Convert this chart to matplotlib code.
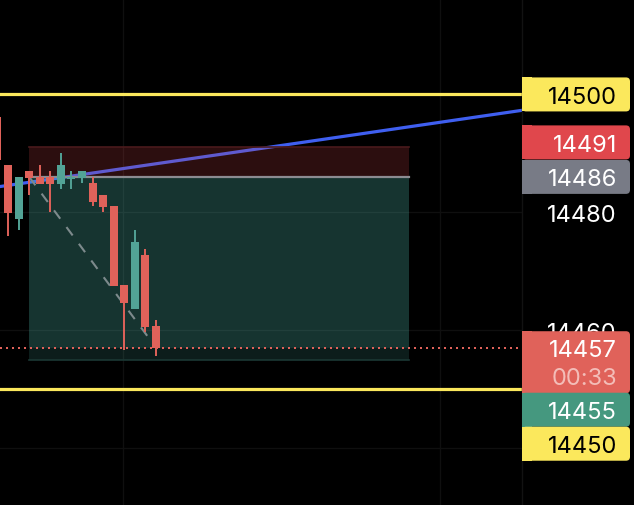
import matplotlib.pyplot as plt
from matplotlib.patches import Rectangle, FancyBboxPatch

# candles (bar index, OHLC)
opens  = [14496.1, 14488.0, 14478.8, 14487.0, 14486.0, 14486.0, 14484.8, 14485.7,
          14485.8, 14485.0, 14482.9, 14481.0, 14467.7, 14463.6, 14472.8, 14460.7]
highs  = [14496.1, 14488.0, 14486.0, 14487.0, 14488.0, 14487.0, 14490.1, 14487.0,
          14487.0, 14486.0, 14482.9, 14481.0, 14467.7, 14476.9, 14473.8, 14461.7]
lows   = [14488.9, 14475.9, 14476.9, 14482.9, 14484.8, 14480.0, 14483.9, 14483.9,
          14485.0, 14481.0, 14480.0, 14467.5, 14456.6, 14463.6, 14459.7, 14455.6]
closes = [14488.9, 14479.8, 14486.0, 14485.8, 14484.8, 14484.8, 14488.0, 14485.9,
          14487.0, 14481.7, 14480.9, 14467.5, 14464.6, 14474.9, 14460.5, 14457.0]

# drawings
levels = [14500, 14450]                   # yellow horizontal lines
trend_x = [0, 50]
trend_y = [14484.3, 14497.4]
box_x = [3, 38.9]                         # short position tool
stop, entry, target = 14491, 14486, 14455
path_x = [3, 15]
path_y = [14486, 14457]
last_price = 14457
countdown = "00:33"
grid_prices = [14440, 14460, 14480, 14500]
grid_bars = [11.87, 41.86]

RED = "#e0625a"
TEAL = "#52a396"
YELLOW = "#fbe85c"

W, H = 634, 506
fig = plt.figure(figsize=(W / 100, H / 100), dpi=100, facecolor="black")
ax = fig.add_axes([0, 0, 522 / W, 1])
ax.set_facecolor("black")
ymin, ymax = 14430.3, 14516.2
ax.set_xlim(0.24, 49.62)
ax.set_ylim(ymin, ymax)
ax.axis("off")

for p in grid_prices:
    ax.axhline(p, color="#0f0f0f", lw=1, zorder=0)
for b in grid_bars:
    ax.axvline(b, color="#0f0f0f", lw=1, zorder=0)

# trend line
ax.plot(trend_x, trend_y, color="#3f5ff0", lw=2.3, zorder=1, solid_capstyle="butt")

# position box
w = box_x[1] - box_x[0]
ax.add_patch(Rectangle((box_x[0], entry), w, stop - entry, facecolor="#e0474c",
                       alpha=0.2, lw=0, zorder=2))
ax.plot(box_x, [stop, stop], color="#4a1a1c", lw=1.2, zorder=2)
ax.add_patch(Rectangle((box_x[0], last_price), w, entry - last_price, facecolor="#58d0c0",
                       alpha=0.25, lw=0, zorder=2))
ax.add_patch(Rectangle((box_x[0], target), w, last_price - target, facecolor="#58d0c0",
                       alpha=0.14, lw=0, zorder=2))
ax.plot(box_x, [target, target], color="#1b3834", lw=1.2, zorder=2)
ax.plot(box_x, [entry, entry], color="#8c8c92", lw=1.6, zorder=3)
ax.plot(path_x, path_y, color="#7d8a8c", lw=1.5, ls=(0, (5, 5)), zorder=3)

# candles
for i in range(len(opens)):
    o, h, l, c = opens[i], highs[i], lows[i], closes[i]
    col = TEAL if c >= o else RED
    ax.plot([i, i], [l, h], color=col, lw=1.4, zorder=4, solid_capstyle="butt")
    lo, hi = min(o, c), max(o, c)
    ax.add_patch(Rectangle((i - 0.38, lo), 0.76, max(hi - lo, 0.15), facecolor=col,
                           lw=0, zorder=5))

for p in levels:
    ax.axhline(p, color=YELLOW, lw=2.3, zorder=6)
ax.axhline(last_price, color=RED, lw=1.44, ls=(0, (1, 2)), zorder=6)

# price scale overlay in pixel space
ov = fig.add_axes([0, 0, 1, 1])
ov.set_xlim(0, W)
ov.set_ylim(H, 0)
ov.axis("off")
ov.patch.set_alpha(0)
ov.plot([522, 522], [0, H], color="#121212", lw=1)


def px(p):
    return (ymax - p) / (ymax - ymin) * H


font = dict(family=["Inter", "DejaVu Sans"], fontsize=17)


def tag(yc, text, bg, fg, h=34):
    top = yc - h / 2
    ov.add_patch(FancyBboxPatch((522, top), 108, h, boxstyle="round,pad=0,rounding_size=4",
                                facecolor=bg, lw=0, zorder=5))
    ov.add_patch(Rectangle((522, top), 10, h, facecolor=bg, lw=0, zorder=5))
    ov.text(617, yc, text, color=fg, ha="right", va="center_baseline", zorder=6, **font)


# plain scale labels (14460 sits partly under the current price tag, as in TradingView)
for p in [14480, 14460]:
    ov.text(617, px(p), str(p), color="white", ha="right", va="center_baseline", zorder=4, **font)

tag(px(levels[0]), str(levels[0]), YELLOW, "black")
y_entry = px(entry)
tag(y_entry, str(entry), "#787b86", "white")
tag(y_entry - 34.5, str(stop), "#e0474c", "white")

# current price with countdown
top = px(last_price) - 16.5
ov.add_patch(FancyBboxPatch((522, top), 108, 62, boxstyle="round,pad=0,rounding_size=4",
                            facecolor=RED, lw=0, zorder=5))
ov.add_patch(Rectangle((522, top), 10, 62, facecolor=RED, lw=0, zorder=5))
ov.text(617, top + 16.5, str(last_price), color="white", ha="right", va="center_baseline",
        zorder=6, **font)
ov.text(617, top + 44, countdown, color="#f3bdb8", ha="right", va="center_baseline",
        zorder=6, **font)
tag(top + 62 + 16.5, str(target), "#45987f", "white")
tag(top + 62 + 33 + 17.5, str(levels[1]), YELLOW, "black")

fig.savefig("out.png", dpi=100, facecolor="black")
